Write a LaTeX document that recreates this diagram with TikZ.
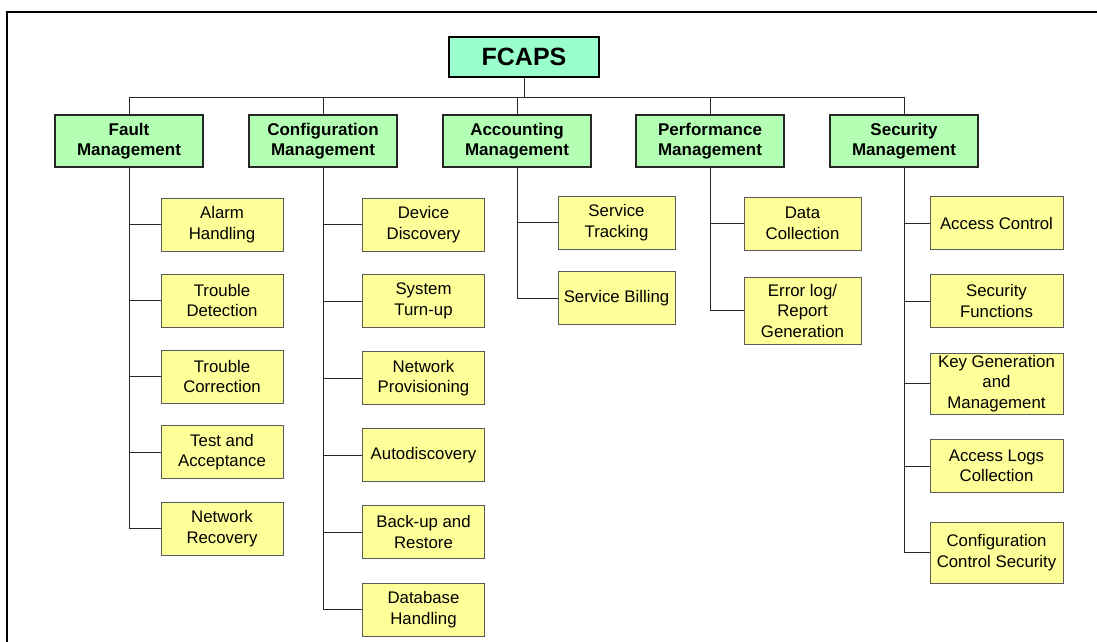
\documentclass[tikz,border=0pt]{standalone}
\usepackage{fontspec}
\setmainfont{Liberation Sans}
\definecolor{rootgreen}{RGB}{153,255,204}
\definecolor{mgmtgreen}{RGB}{179,255,179}
\definecolor{taskyellow}{RGB}{255,255,153}
\tikzset{
	root/.style={draw=black, line width=1.6pt, fill=rootgreen, minimum width=150pt, minimum height=40pt, inner sep=0pt, font=\fontsize{25}{28}\selectfont\bfseries},
	mgmt/.style={draw=black!85, line width=1.2pt, fill=mgmtgreen, minimum width=148pt, minimum height=52pt, inner sep=0pt, align=center, font=\fontsize{17}{20.5}\selectfont\bfseries},
	task/.style={draw=black!65, line width=1pt, fill=taskyellow, minimum height=53pt, inner sep=0pt, align=center, font=\fontsize{16.8}{20.5}\selectfont},
	link/.style={draw=black!85, line width=0.8pt}
}
\begin{document}
\begin{tikzpicture}[x=1pt, y=-1pt]
	\useasboundingbox (0,0) rectangle (1097,642);
	\draw[line width=1.6pt] (7,642) -- (7,12) -- (1097,12);
	\node[root] (fcaps) at (524,57) {FCAPS};
	\coordinate (bus) at (524,97);
	% management areas
	\node[mgmt] (fault) at (129,141) {Fault\\Management};
	\node[mgmt] (config) at (323,141) {Configuration\\Management};
	\node[mgmt] (account) at (517,141) {Accounting\\Management};
	\node[mgmt] (perform) at (710,141) {Performance\\Management};
	\node[mgmt] (secure) at (904,141) {Security\\Management};
	\draw[link] (fcaps.south) -- (bus);
	\foreach \m in {fault, config, account, perform, secure}
		\draw[link] (\m.north) |- (bus);
	% fault tasks
	\node[task, minimum width=122pt] (alarm) at (222,224.5) {Alarm\\Handling};
	\node[task, minimum width=122pt] (detect) at (222,300.5) {Trouble\\Detection};
	\node[task, minimum width=122pt] (correct) at (222,376.5) {Trouble\\Correction};
	\node[task, minimum width=122pt] (test) at (222,452) {Test and\\Acceptance};
	\node[task, minimum width=122pt] (recover) at (222,528.5) {Network\\Recovery};
	\foreach \t in {alarm, detect, correct, test, recover}
		\draw[link] (fault.south) |- (\t.west);
	% configuration tasks
	\node[task, minimum width=122pt] (device) at (423.5,224.5) {Device\\Discovery};
	\node[task, minimum width=122pt] (turnup) at (423.5,301) {System\\Turn-up};
	\node[task, minimum width=122pt] (provision) at (423.5,378) {Network\\Provisioning};
	\node[task, minimum width=122pt] (autodisc) at (423.5,455) {Autodiscovery};
	\node[task, minimum width=122pt] (backup) at (423.5,532) {Back-up and\\Restore};
	\node[task, minimum width=122pt] (database) at (423.5,609.5) {Database\\Handling};
	\foreach \t in {device, turnup, provision, autodisc, backup, database}
		\draw[link] (config.south) |- (\t.west);
	% accounting tasks
	\node[task, minimum width=117pt] (tracking) at (616.5,222.5) {Service\\Tracking};
	\node[task, minimum width=117pt] (billing) at (616.5,298) {Service Billing};
	\foreach \t in {tracking, billing}
		\draw[link] (account.south) |- (\t.west);
	% performance tasks
	\node[task, minimum width=117pt] (datacoll) at (802.5,223.5) {Data\\Collection};
	\node[task, minimum width=117pt, minimum height=67pt] (errlog) at (802.5,310.5) {Error log/\\Report\\Generation};
	\foreach \t in {datacoll, errlog}
		\draw[link] (perform.south) |- (\t.west);
	% security tasks
	\node[task, minimum width=133pt] (access) at (996.5,223) {Access Control};
	\node[task, minimum width=133pt] (secfunc) at (996.5,301) {Security\\Functions};
	\node[task, minimum width=133pt, minimum height=61pt] (keygen) at (996.5,383.5) {Key Generation\\and\\Management};
	\node[task, minimum width=133pt] (logs) at (996.5,466) {Access Logs\\Collection};
	\node[task, minimum width=133pt, minimum height=61pt] (ctrlsec) at (996.5,552.5) {Configuration\\Control Security};
	\foreach \t in {access, secfunc, keygen, logs, ctrlsec}
		\draw[link] (secure.south) |- (\t.west);
\end{tikzpicture}
\end{document}
